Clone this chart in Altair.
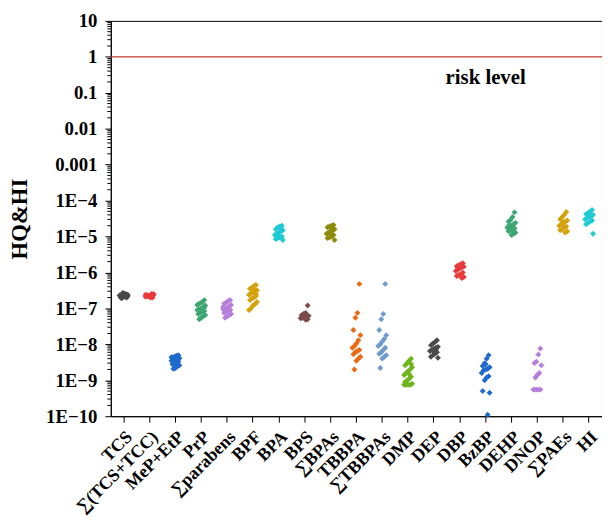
import altair as alt
import pandas as pd

cats = ["TCS", "∑(TCS+TCC)", "MeP+EtP", "PrP", "∑parabens", "BPF", "BPA", "BPS",
        "∑BPAs", "TBBPA", "∑TBBPAs", "DMP", "DEP", "DBP", "BzBP", "DEHP", "DNOP",
        "∑PAEs", "HI"]

colors = ["#4a4a4a", "#e8393a", "#1f6acd", "#3da672", "#b57ddc", "#d4a20c", "#1ecad3",
          "#7b4a4a", "#8c8c0a", "#ec6a12", "#6f9bcf", "#6fb51f", "#4a4a4a", "#e8393a",
          "#1f6acd", "#3da672", "#b57ddc", "#d4a20c", "#1ecad3"]

v_TCS = [2.0e-7, 2.1e-7, 2.2e-7, 2.3e-7, 2.4e-7, 2.5e-7, 2.6e-7, 2.2e-7, 2.3e-7, 2.1e-7,
         2.4e-7, 2.7e-7, 2.0e-7, 2.2e-7, 2.3e-7, 2.5e-7, 1.9e-7, 2.3e-7, 2.2e-7, 2.4e-7]
v_TCS_TCC = [2.0e-7, 2.1e-7, 2.2e-7, 2.3e-7, 2.4e-7, 2.5e-7, 2.2e-7, 2.3e-7, 2.1e-7, 2.4e-7,
             2.0e-7, 2.2e-7, 2.3e-7, 2.5e-7, 2.1e-7, 2.3e-7, 2.2e-7, 2.4e-7]
v_MeP_EtP = [5.0e-9, 4.8e-9, 4.5e-9, 4.3e-9, 4.1e-9, 4.0e-9, 3.8e-9, 3.6e-9, 3.5e-9, 3.3e-9,
             3.1e-9, 3.0e-9, 2.8e-9, 2.6e-9, 2.4e-9, 2.2e-9, 2.1e-9, 4.4e-9, 3.9e-9, 2.7e-9]
v_PrP = [1.7e-7, 1.5e-7, 1.4e-7, 1.3e-7, 1.2e-7, 1.1e-7, 1.0e-7, 9.5e-8, 9.0e-8, 8.5e-8,
         8.0e-8, 7.5e-8, 7.0e-8, 6.5e-8, 6.0e-8, 5.5e-8, 5.0e-8, 1.25e-7, 1.05e-7, 8.8e-8]
v_parabens = [1.7e-7, 1.6e-7, 1.45e-7, 1.35e-7, 1.25e-7, 1.15e-7, 1.05e-7, 1.0e-7, 9.5e-8,
              9.0e-8, 8.5e-8, 8.0e-8, 7.5e-8, 7.0e-8, 6.5e-8, 6.0e-8, 5.5e-8, 1.1e-7, 9.2e-8]
v_BPF = [4.5e-7, 4.2e-7, 3.8e-7, 3.5e-7, 3.2e-7, 3.0e-7, 2.8e-7, 2.6e-7, 2.4e-7, 2.2e-7,
         2.0e-7, 1.9e-7, 1.7e-7, 1.5e-7, 1.3e-7, 1.2e-7, 1.0e-7, 9.0e-8, 2.5e-7, 3.3e-7]
v_BPA = [2.0e-5, 1.9e-5, 1.8e-5, 1.6e-5, 1.5e-5, 1.4e-5, 1.3e-5, 1.2e-5, 1.1e-5, 1.0e-5,
         9.5e-6, 9.0e-6, 8.5e-6, 8.0e-6, 1.7e-5, 1.05e-5]
v_BPS = [1.2e-7, 7.5e-8, 7.0e-8, 6.5e-8, 6.2e-8, 6.0e-8, 5.8e-8, 5.5e-8, 5.3e-8, 5.0e-8,
         4.8e-8, 6.8e-8, 5.7e-8]
v_BPAs = [2.1e-5, 2.0e-5, 1.9e-5, 1.8e-5, 1.6e-5, 1.5e-5, 1.4e-5, 1.3e-5, 1.2e-5, 1.1e-5,
          1.0e-5, 9.5e-6, 9.0e-6, 8.0e-6, 1.7e-5, 1.25e-5]
v_TBBPA = [4.8e-7, 7.5e-8, 5.5e-8, 2.5e-8, 1.8e-8, 1.3e-8, 1.05e-8, 9.0e-9, 8.0e-9, 7.0e-9,
           6.5e-9, 6.0e-9, 5.3e-9, 4.5e-9, 4.0e-9, 3.5e-9, 2.0e-9]
v_TBBPAs = [4.8e-7, 7.0e-8, 5.0e-8, 2.5e-8, 1.8e-8, 1.4e-8, 1.2e-8, 1.0e-8, 9.0e-9, 8.0e-9,
            7.0e-9, 6.0e-9, 5.5e-9, 5.0e-9, 4.5e-9, 4.0e-9, 2.2e-9]
v_DMP = [4.0e-9, 3.5e-9, 3.0e-9, 2.6e-9, 2.3e-9, 2.0e-9, 1.8e-9, 1.6e-9, 1.4e-9, 1.25e-9,
         1.1e-9, 1.0e-9, 9.0e-10, 8.0e-10, 7.5e-10, 7.5e-10, 7.5e-10, 7.5e-10, 2.8e-9, 1.5e-9]
v_DEP = [1.3e-8, 1.15e-8, 1.05e-8, 9.5e-9, 8.5e-9, 8.0e-9, 7.5e-9, 7.0e-9, 6.5e-9, 6.0e-9,
         5.5e-9, 5.0e-9, 4.5e-9, 4.2e-9, 7.2e-9, 6.2e-9]
v_DBP = [1.8e-6, 1.7e-6, 1.6e-6, 1.5e-6, 1.45e-6, 1.4e-6, 1.3e-6, 1.2e-6, 1.1e-6, 1.0e-6,
         9.0e-7, 8.5e-7, 8.0e-7, 7.5e-7, 7.0e-7, 1.55e-6, 1.35e-6]
v_BzBP = [5.0e-9, 4.0e-9, 3.0e-9, 2.5e-9, 2.3e-9, 2.1e-9, 2.0e-9, 1.9e-9, 1.6e-9, 1.3e-9,
          1.2e-9, 1.0e-9, 5.0e-10, 4.5e-10, 1.1e-10, 2.8e-9]
v_DEHP = [4.7e-5, 3.5e-5, 2.9e-5, 2.6e-5, 2.4e-5, 2.2e-5, 2.0e-5, 1.9e-5, 1.8e-5, 1.7e-5,
          1.6e-5, 1.5e-5, 1.4e-5, 1.3e-5, 1.2e-5, 1.1e-5, 2.1e-5, 1.75e-5]
v_DNOP = [7.7e-9, 5.2e-9, 3.3e-9, 3.0e-9, 2.6e-9, 1.6e-9, 1.4e-9, 1.2e-9, 5.5e-10, 5.5e-10,
          5.5e-10, 5.5e-10, 5.5e-10]
v_PAEs = [4.8e-5, 4.0e-5, 3.5e-5, 3.0e-5, 2.8e-5, 2.6e-5, 2.4e-5, 2.2e-5, 2.0e-5, 1.9e-5,
          1.8e-5, 1.6e-5, 1.5e-5, 1.4e-5, 1.3e-5, 2.5e-5]
v_HI = [5.5e-5, 5.0e-5, 4.5e-5, 4.2e-5, 4.0e-5, 3.7e-5, 3.5e-5, 3.3e-5, 3.0e-5, 2.8e-5,
        2.6e-5, 2.4e-5, 2.2e-5, 1.2e-5, 3.8e-5]

series = [v_TCS, v_TCS_TCC, v_MeP_EtP, v_PrP, v_parabens, v_BPF, v_BPA, v_BPS, v_BPAs,
          v_TBBPA, v_TBBPAs, v_DMP, v_DEP, v_DBP, v_BzBP, v_DEHP, v_DNOP, v_PAEs, v_HI]

major_ticks = [10, 1, 0.1, 0.01, 0.001, 1e-4, 1e-5, 1e-6, 1e-7, 1e-8, 1e-9, 1e-10]
minor_ticks = [m * 10.0 ** e for e in range(-10, 1) for m in range(2, 10)]

risk_level = 1.0
risk_label = "risk level"
risk_label_cat = "BzBP"
risk_label_y = 0.26

rows = []
for c, vals in zip(cats, series):
    for v in vals:
        rows.append({"cat": c, "v": v})
df = pd.DataFrame(rows)

FONT = "Liberation Serif"

xscale = alt.Scale(type="band", domain=cats, paddingInner=0, paddingOuter=0)
yscale = alt.Scale(type="log", domain=[1e-10, 10], nice=False)

points = alt.Chart(df).transform_window(
    r="row_number()", groupby=["cat"]
).transform_calculate(
    jit="((datum.r * 7) % 9) - 4"
).mark_point(shape="diamond", filled=True, size=36, opacity=1).encode(
    x=alt.X("cat:N", scale=xscale, sort=cats, title=None,
            axis=alt.Axis(labelAngle=-45, labelAlign="right", labelBaseline="middle",
                          labelFont=FONT, labelFontWeight="bold", labelFontSize=18,
                          labelColor="black", labelOffset=6, labelPadding=12,
                          tickSize=6, tickColor="black", domainColor="black",
                          labelOverlap=False, labelLimit=250)),
    xOffset=alt.XOffset("jit:Q", scale=alt.Scale(domain=[-13, 13])),
    y=alt.Y("v:Q", scale=yscale, title="HQ&HI",
            axis=alt.Axis(values=major_ticks, tickSize=6, tickColor="black",
                          domainColor="black", labelFont=FONT, labelFontWeight="bold",
                          labelFontSize=19, labelColor="black", labelPadding=8,
                          labelOverlap=False,
                          labelExpr=("datum.value >= 0.001 ? format(datum.value, '') : "
                                     "'1E\u2212' + round(-log(datum.value) / LN10)"),
                          titleFont=FONT, titleFontWeight="bold", titleFontSize=23,
                          titleColor="black", titlePadding=14, grid=False)),
    color=alt.Color("cat:N", scale=alt.Scale(domain=cats, range=colors), legend=None),
)

# minor ticks of the log axis
minor = alt.Chart(pd.DataFrame({"v": minor_ticks})).mark_rule(
    color="black", strokeWidth=1
).encode(
    y=alt.Y("v:Q", scale=yscale),
    x=alt.value(-3.5),
    x2=alt.value(0),
)

risk = alt.Chart(pd.DataFrame({"v": [risk_level]})).mark_rule(
    color="#c0392b", strokeWidth=1.2
).encode(
    y=alt.Y("v:Q", scale=yscale)
)

label = alt.Chart(pd.DataFrame({"cat": [risk_label_cat], "v": [risk_label_y],
                                "t": [risk_label]})).mark_text(
    font=FONT, fontWeight="bold", fontSize=21, color="black", baseline="middle", align="center"
).encode(
    x=alt.X("cat:N", scale=xscale, sort=cats),
    y=alt.Y("v:Q", scale=yscale),
    text="t:N",
)

chart = alt.layer(points, minor, risk, label).properties(
    width=497, height=400,
    autosize=alt.AutoSizeParams(type="none"),
    padding={"left": 104, "top": 10, "right": 0, "bottom": 103},
).configure_view(stroke="black", strokeWidth=1)

chart.save("out.html", embed_options={"renderer": "svg", "actions": False})
